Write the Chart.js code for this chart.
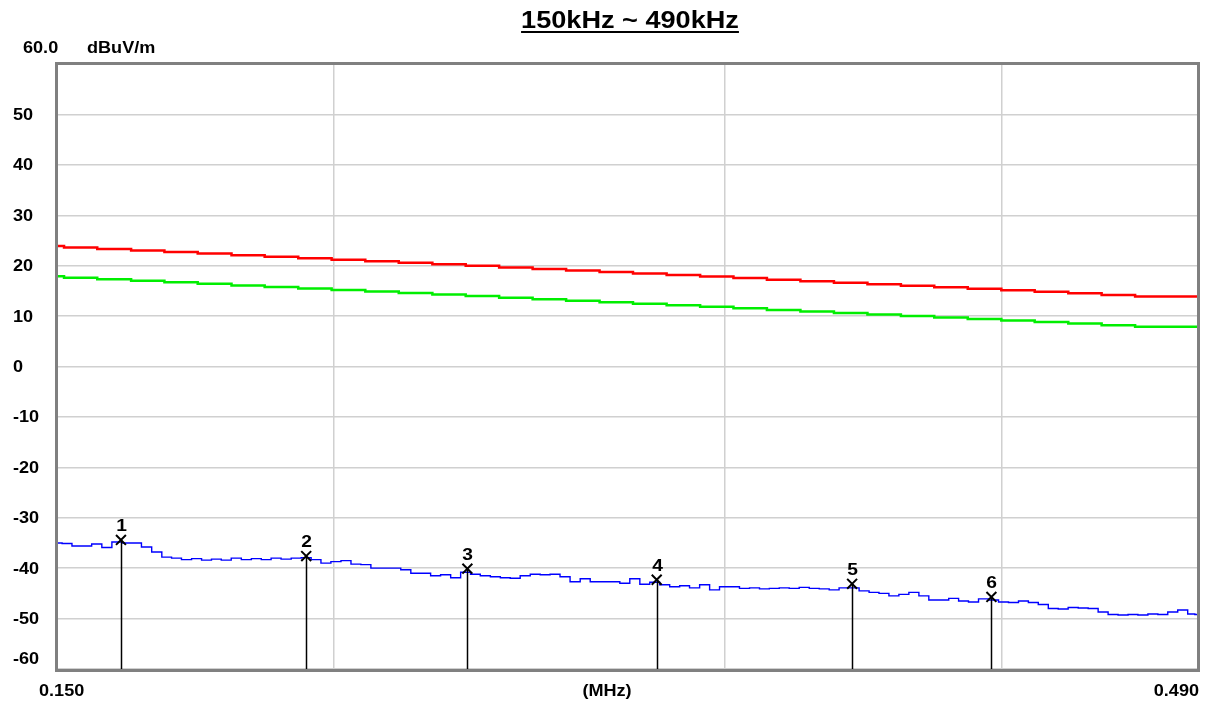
<!DOCTYPE html>
<html>
<head>
<meta charset="utf-8">
<script src="https://cdn.jsdelivr.net/npm/chart.js@4.4.0/dist/chart.umd.min.js"></script>
<style>
  body { margin: 0; background: #fff; }
  #wrap { width: 1206px; height: 702px; }
</style>
</head>
<body>
<div id="wrap"><canvas id="scan" width="1206" height="702"></canvas></div>
<script>
const titleText = '150kHz ~ 490kHz';
const yUnit = 'dBuV/m';
const yTopLabel = '60.0';
const xUnit = '(MHz)';
const xMinLabel = '0.150';
const xMaxLabel = '0.490';

const xGridTicks = [0.2, 0.3, 0.4];
const yTickValues = [50, 40, 30, 20, 10, 0, -10, -20, -30, -40, -50, -60];

// limit lines (stepped)
const limitFreq = [0.150, 0.1511, 0.1564, 0.1620, 0.1677, 0.1736, 0.1798, 0.1861, 0.1927, 0.1995,
  0.2066, 0.2139, 0.2215, 0.2293, 0.2374, 0.2458, 0.2545, 0.2635, 0.2728, 0.2825,
  0.2925, 0.3028, 0.3135, 0.3246, 0.3361, 0.3480, 0.3603, 0.3730, 0.3862, 0.3999,
  0.4140, 0.4287, 0.4438, 0.4595, 0.4758, 0.490];
const limitRed = [24.10, 23.90, 23.60, 23.29, 22.99, 22.69, 22.39, 22.08, 21.78, 21.48,
  21.17, 20.87, 20.57, 20.26, 19.96, 19.66, 19.35, 19.05, 18.75, 18.45,
  18.14, 17.84, 17.54, 17.23, 16.93, 16.63, 16.32, 16.02, 15.72, 15.42,
  15.11, 14.81, 14.51, 14.20, 13.90, 13.90];
const limitGreen = [18.10, 17.90, 17.60, 17.29, 16.99, 16.69, 16.39, 16.08, 15.78, 15.48,
  15.17, 14.87, 14.57, 14.26, 13.96, 13.66, 13.35, 13.05, 12.75, 12.45,
  12.14, 11.84, 11.54, 11.23, 10.93, 10.63, 10.32, 10.02, 9.72, 9.42,
  9.11, 8.81, 8.51, 8.20, 7.90, 7.90];

// measured trace
const scanFreq = [0.1500, 0.1516, 0.1531, 0.1547, 0.1563, 0.1580, 0.1596, 0.1613, 0.1629, 0.1646,
  0.1664, 0.1681, 0.1698, 0.1716, 0.1734, 0.1752, 0.1770, 0.1788, 0.1807, 0.1826,
  0.1845, 0.1864, 0.1883, 0.1903, 0.1923, 0.1943, 0.1963, 0.1983, 0.2004, 0.2025,
  0.2046, 0.2067, 0.2089, 0.2110, 0.2132, 0.2155, 0.2177, 0.2200, 0.2222, 0.2246,
  0.2269, 0.2293, 0.2316, 0.2340, 0.2365, 0.2389, 0.2414, 0.2439, 0.2465, 0.2490,
  0.2516, 0.2542, 0.2569, 0.2596, 0.2623, 0.2650, 0.2677, 0.2705, 0.2733, 0.2762,
  0.2790, 0.2819, 0.2849, 0.2878, 0.2908, 0.2939, 0.2969, 0.3000, 0.3031, 0.3063,
  0.3095, 0.3127, 0.3159, 0.3192, 0.3225, 0.3259, 0.3293, 0.3327, 0.3362, 0.3396,
  0.3432, 0.3468, 0.3504, 0.3540, 0.3577, 0.3614, 0.3652, 0.3690, 0.3728, 0.3767,
  0.3806, 0.3845, 0.3885, 0.3926, 0.3967, 0.4008, 0.4050, 0.4092, 0.4134, 0.4177,
  0.4221, 0.4264, 0.4309, 0.4354, 0.4399, 0.4445, 0.4491, 0.4538, 0.4585, 0.4632,
  0.4681, 0.4729, 0.4778, 0.4828, 0.4878, 0.4900];
const scanLevel = [-35.0, -35.1, -35.6, -35.6, -35.2, -35.9, -34.8, -35.0, -35.0, -35.8,
  -36.8, -37.8, -38.0, -38.3, -38.1, -38.4, -38.2, -38.4, -38.0, -38.3,
  -38.1, -38.3, -38.0, -38.2, -38.0, -37.9, -38.3, -39.0, -38.7, -38.5,
  -39.2, -39.3, -40.0, -40.0, -40.0, -40.3, -41.0, -41.0, -41.5, -41.3,
  -41.9, -40.8, -41.2, -41.5, -41.7, -41.9, -42.0, -41.5, -41.2, -41.3,
  -41.2, -41.7, -42.7, -42.1, -42.7, -42.7, -42.7, -43.0, -42.1, -43.2,
  -42.8, -43.3, -43.7, -43.5, -43.9, -43.3, -44.3, -43.7, -43.7, -44.0,
  -43.9, -44.1, -44.0, -43.9, -44.0, -43.8, -44.0, -44.1, -44.3, -43.9,
  -43.9, -44.5, -44.8, -45.0, -45.5, -45.2, -44.8, -45.5, -46.3, -46.3,
  -46.0, -46.5, -46.7, -46.1, -46.3, -46.7, -46.8, -46.5, -46.8, -47.2,
  -48.0, -48.1, -47.8, -47.9, -48.0, -48.7, -49.2, -49.3, -49.2, -49.3,
  -49.1, -49.2, -48.7, -48.3, -49.1, -49.2];

// peak markers
const markerNames = ['1', '2', '3', '4', '5', '6'];
const markerFreq = [0.1603, 0.1943, 0.2297, 0.2796, 0.3425, 0.3958];
const markerLevel = [-34.4, -37.6, -40.1, -42.3, -43.1, -45.7];

const SX = 1.13;
const labelFont = 'bold 16px "Liberation Sans", Arial, sans-serif';
const markerFont = 'bold 17px "Liberation Sans", Arial, sans-serif';

function drawText(ctx, s, x, y, font, align) {
  ctx.save();
  ctx.font = font;
  ctx.textBaseline = 'alphabetic';
  ctx.textAlign = 'left';
  const w = ctx.measureText(s).width * SX;
  let left = x;
  if (align === 'right') left = x - w;
  if (align === 'center') left = x - w / 2;
  ctx.translate(left, y);
  ctx.scale(SX, 1);
  ctx.fillStyle = '#000';
  ctx.fillText(s, 0, 0);
  ctx.restore();
  return { left: left, width: w };
}

const toPoints = function(xs, ys) {
  return xs.map(function(x, i) { return { x: x, y: ys[i] }; });
};

const decorPlugin = {
  id: 'decor',
  beforeDraw: function(chart) {
    const ctx = chart.ctx;
    ctx.save();
    ctx.fillStyle = '#fff';
    ctx.fillRect(0, 0, chart.width, chart.height);
    ctx.restore();
  },
  afterDatasetsDraw: function(chart) {
    const ctx = chart.ctx;
    const xs = chart.scales.x;
    const ys = chart.scales.y;
    const area = chart.chartArea;
    ctx.save();
    ctx.strokeStyle = '#000';
    ctx.lineWidth = 1.5;
    markerFreq.forEach(function(f, i) {
      const px = Math.round(xs.getPixelForValue(f)) + 0.5;
      const py = ys.getPixelForValue(markerLevel[i]);
      ctx.beginPath();
      ctx.moveTo(px, py);
      ctx.lineTo(px, area.bottom);
      ctx.stroke();
      drawText(ctx, markerNames[i], px, py - 9, markerFont, 'center');
    });
    ctx.restore();
  },
  afterDraw: function(chart) {
    const ctx = chart.ctx;
    const ys = chart.scales.y;
    const area = chart.chartArea;

    ctx.save();
    ctx.strokeStyle = '#808080';
    ctx.lineWidth = 3;
    ctx.strokeRect(area.left - 0.5, area.top - 0.5, area.right - area.left + 2, area.bottom - area.top + 2);
    ctx.restore();

    yTickValues.forEach(function(v) {
      let py = ys.getPixelForValue(v);
      if (v === -60) py -= 11;
      drawText(ctx, String(v), 13, py + 5.5, labelFont, 'left');
    });

    drawText(ctx, yTopLabel, 23, 53, labelFont, 'left');
    drawText(ctx, yUnit, 87, 53, labelFont, 'left');
    drawText(ctx, xMinLabel, 39, 696, labelFont, 'left');
    drawText(ctx, xMaxLabel, 1199, 696, labelFont, 'right');
    drawText(ctx, xUnit, 607, 696, labelFont, 'center');

    const t = drawText(ctx, titleText, 630, 28, 'bold 24px "Liberation Sans", Arial, sans-serif', 'center');
    ctx.save();
    ctx.fillStyle = '#000';
    ctx.fillRect(t.left, 31, t.width, 2);
    ctx.restore();
  }
};

const data = {
  datasets: [
    {
      label: 'Marker',
      type: 'scatter',
      data: toPoints(markerFreq, markerLevel),
      pointStyle: 'crossRot',
      pointRadius: 7,
      pointBorderWidth: 2,
      pointBorderColor: '#000',
      pointBackgroundColor: '#000',
      showLine: false
    },
    {
      label: 'Scan',
      data: toPoints(scanFreq, scanLevel),
      borderColor: '#0000ff',
      borderWidth: 1.4,
      pointRadius: 0,
      stepped: 'middle'
    },
    {
      label: 'Limit',
      data: toPoints(limitFreq, limitRed),
      borderColor: '#ff0000',
      borderWidth: 2.5,
      pointRadius: 0,
      stepped: 'after'
    },
    {
      label: 'Margin',
      data: toPoints(limitFreq, limitGreen),
      borderColor: '#00ee00',
      borderWidth: 2.5,
      pointRadius: 0,
      stepped: 'after'
    }
  ]
};

const config = {
  type: 'line',
  data: data,
  plugins: [decorPlugin],
  options: {
    responsive: false,
    animation: false,
    devicePixelRatio: 1,
    layout: { padding: { left: 57, right: 5, top: 64, bottom: 33 } },
    plugins: {
      legend: { display: false },
      tooltip: { enabled: false }
    },
    scales: {
      x: {
        type: 'logarithmic',
        min: 0.15,
        max: 0.49,
        afterBuildTicks: function(scale) {
          scale.ticks = xGridTicks.map(function(v) { return { value: v }; });
        },
        afterFit: function(scale) { scale.height = 0; },
        ticks: { display: false },
        border: { display: false },
        grid: { color: '#d0d0d0', lineWidth: 1.5, drawTicks: false }
      },
      y: {
        min: -60,
        max: 60,
        ticks: { display: false, stepSize: 10 },
        afterFit: function(scale) { scale.width = 0; },
        border: { display: false },
        grid: { color: '#d0d0d0', lineWidth: 1.5, drawTicks: false }
      }
    }
  }
};

const scanChart = new Chart(document.getElementById('scan'), config);
</script>
</body>
</html>
